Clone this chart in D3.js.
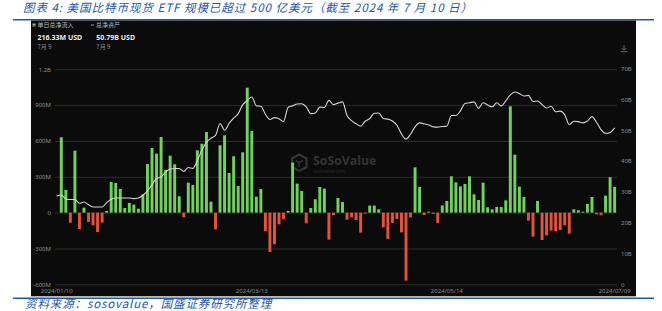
<!DOCTYPE html>
<html><head><meta charset="utf-8">
<script src="https://cdn.jsdelivr.net/npm/d3@7"></script>
<style>
html,body{margin:0;padding:0;background:#fff;}
svg{display:block;}
</style></head>
<body>
<svg id="c" width="662" height="311"></svg>
<script>
// ---- DATA ----
const titleText = "图表 4:  美国比特币现货 ETF 规模已超过 500 亿美元（截至 2024 年 7 月 10 日）";
const sourceText = "资料来源：sosovalue，国盛证券研究所整理";
const dates = [
"2024/01/10","2024/01/11","2024/01/12","2024/01/16","2024/01/17","2024/01/18","2024/01/19","2024/01/22","2024/01/23","2024/01/24","2024/01/25","2024/01/26","2024/01/29","2024/01/30","2024/01/31",
"2024/02/01","2024/02/02","2024/02/05","2024/02/06","2024/02/07","2024/02/08","2024/02/09","2024/02/12","2024/02/13","2024/02/14","2024/02/15","2024/02/16","2024/02/20","2024/02/21","2024/02/22","2024/02/23","2024/02/26","2024/02/27","2024/02/28","2024/02/29",
"2024/03/01","2024/03/04","2024/03/05","2024/03/06","2024/03/07","2024/03/08","2024/03/11","2024/03/12","2024/03/13","2024/03/14","2024/03/15","2024/03/18","2024/03/19","2024/03/20","2024/03/21","2024/03/22","2024/03/25","2024/03/26","2024/03/27","2024/03/28",
"2024/04/01","2024/04/02","2024/04/03","2024/04/04","2024/04/05","2024/04/08","2024/04/09","2024/04/10","2024/04/11","2024/04/12","2024/04/15","2024/04/16","2024/04/17","2024/04/18","2024/04/19","2024/04/22","2024/04/23","2024/04/24","2024/04/25","2024/04/26","2024/04/29","2024/04/30",
"2024/05/01","2024/05/02","2024/05/03","2024/05/06","2024/05/07","2024/05/08","2024/05/09","2024/05/10","2024/05/13","2024/05/14","2024/05/15","2024/05/16","2024/05/17","2024/05/20","2024/05/21","2024/05/22","2024/05/23","2024/05/24","2024/05/28","2024/05/29","2024/05/30","2024/05/31",
"2024/06/03","2024/06/04","2024/06/05","2024/06/06","2024/06/07","2024/06/10","2024/06/11","2024/06/12","2024/06/13","2024/06/14","2024/06/17","2024/06/18","2024/06/20","2024/06/21","2024/06/24","2024/06/25","2024/06/26","2024/06/27","2024/06/28",
"2024/07/01","2024/07/02","2024/07/03","2024/07/05","2024/07/08","2024/07/09"];
// 单日总净流入 (million USD)
const netInflow = [null,631,190,-84,519,-137,42,-78,-106,-162,-84,14,257,248,198,39,81,67,33,153,407,541,494,633,357,477,405,137,-39,251,232,522,577,675,92,-140,564,647,332,472,223,505,1046,684,134,198,-156,-329,-265,-98,-53,14,419,243,181,-89,39,112,215,201,-226,-20,123,89,-59,-39,-61,-167,-8,59,59,28,-123,-220,-86,-53,-165,-569,-39,379,215,-20,8,-11,-86,61,98,304,254,220,240,304,153,106,251,45,28,47,47,103,890,485,218,131,-67,-201,98,-229,-190,-151,-156,-145,-106,-176,28,20,8,73,131,-14,-22,142,296,216.33];
// 总净资产 (billion USD)
const netAssets = [28.7,29.0,27.7,27.5,27.5,26.3,26.7,25.8,25.1,25.1,25.1,26.5,27.6,28.0,28.0,28.0,28.0,27.8,28.0,28.9,30.3,32.3,34.4,34.8,36.5,37.4,37.6,37.6,36.6,37.9,37.6,40.2,43.5,46.1,47.4,48.3,52.2,50.0,52.2,53.9,55.4,58.3,59.6,60.8,57.9,57.8,55.2,53.5,54.1,53.7,52.8,57.4,57.9,58.5,58.6,57.6,55.4,55.6,57.5,57.4,59.7,58.3,58.8,59.2,54.8,53.1,52.1,51.3,52.9,53.8,55.5,55.6,53.8,53.6,53.0,51.6,48.8,47.1,48.7,51.1,52.4,52.1,51.7,51.1,51.0,51.2,51.3,54.8,54.8,56.3,58.7,58.9,59.2,57.1,58.9,58.2,57.6,58.9,57.9,59.5,61.5,62.4,61.9,61.1,61.3,59.3,59.5,58.3,57.2,57.8,56.0,56.2,55.0,51.8,52.9,52.8,52.4,53.0,54.4,52.6,50.2,49.0,49.3,50.79];
const leftTicks = [-600,-300,0,300,600,900,1200];
const leftTickLabels = ["-600M","-300M","0","300M","600M","900M","1.2B"];
const rightTicks = [0,10,20,30,40,50,60,70];
const rightTickLabels = ["0","10B","20B","30B","40B","50B","60B","70B"];
const xTickDates = ["2024/01/10","2024/03/13","2024/05/14","2024/07/09"];
const legendLabels = ["单日总净流入","总净资产"];
const legendValues = ["216.33M USD","50.79B USD"];
const legendDate = "7月 9";

// ---- DRAW ----
const svg = d3.select("#c");
const BLUE = "#2356a8";
const GREEN = "#72cf60", RED = "#e2533e";
const AX = "#8c8c8c";
const FONT = "'Noto Sans','Noto Sans CJK SC',sans-serif";

function fitText(sel, target) {
  const n = sel.text().length;
  const w = sel.node().getComputedTextLength();
  sel.attr("letter-spacing", ((target - w) / n).toFixed(3));
}

// title
const title = svg.append("text").attr("x",23).attr("y",12.3)
  .attr("fill",BLUE).attr("font-style","italic").attr("font-size",11.5)
  .attr("font-family","'Noto Sans CJK SC',sans-serif").text(titleText);
fitText(title, 451);

svg.append("rect").attr("x",13).attr("y",19).attr("width",641).attr("height",1.5).attr("fill",BLUE);
svg.append("rect").attr("x",31).attr("y",20.5).attr("width",605).attr("height",275.8).attr("fill","#0b0b0b");
svg.append("rect").attr("x",13).attr("y",297.5).attr("width",641).attr("height",1.5).attr("fill",BLUE);

const src = svg.append("text").attr("x",25).attr("y",308.3)
  .attr("fill",BLUE).attr("font-style","italic").attr("font-size",11.5)
  .attr("font-family","'Noto Sans CJK SC',sans-serif").text(sourceText);
fitText(src, 247);

// scales
const x = d3.scaleBand().domain(dates).range([54.5,616.9]).paddingInner(0.35).paddingOuter(0.175);
const yL = d3.scaleLinear().domain([-600,1200]).range([284.3,69.3]);
const yR = d3.scaleLinear().domain([0,70]).range([284.3,68.6]);

// gridlines
const grid = svg.append("g").attr("transform","translate(55,0)")
  .call(d3.axisLeft(yL).tickValues(leftTicks).tickSize(-562).tickFormat(""));
grid.select(".domain").remove();
grid.selectAll("line").attr("stroke","#2b2b2b").attr("stroke-width",1);

// left axis labels
const la = svg.append("g").attr("transform","translate(55,0)")
  .call(d3.axisLeft(yL).tickValues(leftTicks).tickSize(0).tickPadding(4)
    .tickFormat((d,i)=>leftTickLabels[i]));
la.select(".domain").remove();
la.selectAll("text").attr("fill",AX).attr("font-size",6).attr("font-family",FONT).attr("dy","0.3em");

// right axis labels
const ra = svg.append("g").attr("transform","translate(617,0)")
  .call(d3.axisRight(yR).tickValues(rightTicks).tickSize(0).tickPadding(4)
    .tickFormat((d,i)=>rightTickLabels[i]));
ra.select(".domain").remove();
ra.selectAll("text").attr("fill",AX).attr("font-size",6).attr("font-family",FONT).attr("dy","0.3em");

// x axis labels
const xa = svg.append("g").attr("transform","translate(0,289.2)")
  .call(d3.axisBottom(x).tickValues(xTickDates).tickSize(0).tickPadding(0));
xa.select(".domain").remove();
xa.selectAll("text").attr("fill",AX).attr("font-size",6).attr("font-family",FONT).attr("dy","0.71em");

// watermark
const wm = svg.append("g");
wm.append("path").attr("d","M299.2,154.5 L306.5,158.5 L306.5,167 L299.2,171 L292,167 L292,158.5 Z")
  .attr("fill","none").attr("stroke","#333").attr("stroke-width",2.2);
wm.append("path").attr("d","M295.5,160.5 L299.2,162.5 L303,160.5 M299.2,162.5 L299.2,167")
  .attr("fill","none").attr("stroke","#333").attr("stroke-width",1.6);
wm.append("text").attr("x",313).attr("y",165).attr("fill","#333").attr("font-weight","bold")
  .attr("font-size",12.3).attr("font-family","'Open Sans',sans-serif").text("SoSoValue");
wm.append("text").attr("x",313.5).attr("y",172.6).attr("fill","#2c2c2c")
  .attr("font-size",4.6).attr("font-family","'Open Sans',sans-serif").text("sosovalue.com");

// bars
const barData = dates.map((d,i)=>({d, v: netInflow[i]})).filter(o=>o.v!==null);
svg.append("g").selectAll("rect").data(barData).join("rect")
  .attr("x", o=>x(o.d))
  .attr("width", x.bandwidth())
  .attr("y", o=>Math.min(yL(o.v), yL(0)))
  .attr("height", o=>Math.max(0.8, Math.abs(yL(o.v)-yL(0))))
  .attr("fill", o=>o.v>=0?GREEN:RED);

// line
const line = d3.line().x((v,i)=>x(dates[i])+x.bandwidth()/2).y(v=>yR(v)).curve(d3.curveMonotoneX);
svg.append("path").datum(netAssets).attr("d",line).attr("fill","none")
  .attr("stroke","#d6d6d6").attr("stroke-width",1.1);

// legend
svg.append("rect").attr("x",32.5).attr("y",23.5).attr("width",3).attr("height",1.6).attr("fill",GREEN);
svg.append("rect").attr("x",32.5).attr("y",25.1).attr("width",3).attr("height",1.6).attr("fill",RED);
svg.append("text").attr("x",37.5).attr("y",27.2).attr("fill","#bdbdbd").attr("font-size",6)
  .attr("font-family","'Noto Sans CJK SC',sans-serif").text(legendLabels[0]);
svg.append("rect").attr("x",91).attr("y",24.6).attr("width",3).attr("height",0.8).attr("fill","#bdbdbd");
svg.append("text").attr("x",96).attr("y",27.2).attr("fill","#bdbdbd").attr("font-size",6)
  .attr("font-family","'Noto Sans CJK SC',sans-serif").text(legendLabels[1]);
[37.5,96.3].forEach((lx,i)=>{
  svg.append("text").attr("x",lx).attr("y",40.3).attr("fill","#eeeeee").attr("font-weight","bold")
    .attr("font-size",7).attr("font-family",FONT).text(legendValues[i]);
  svg.append("text").attr("x",lx).attr("y",49).attr("fill","#8a8a8a")
    .attr("font-size",6).attr("font-family","'Noto Sans CJK SC',sans-serif").text(legendDate);
});

// download icon
svg.append("path").attr("d","M624,45 L624,50 M621.8,48 L624,50.3 L626.2,48 M620.8,51.8 L627.2,51.8")
  .attr("fill","none").attr("stroke","#6a6a6a").attr("stroke-width",0.9);
</script>
</body></html>
